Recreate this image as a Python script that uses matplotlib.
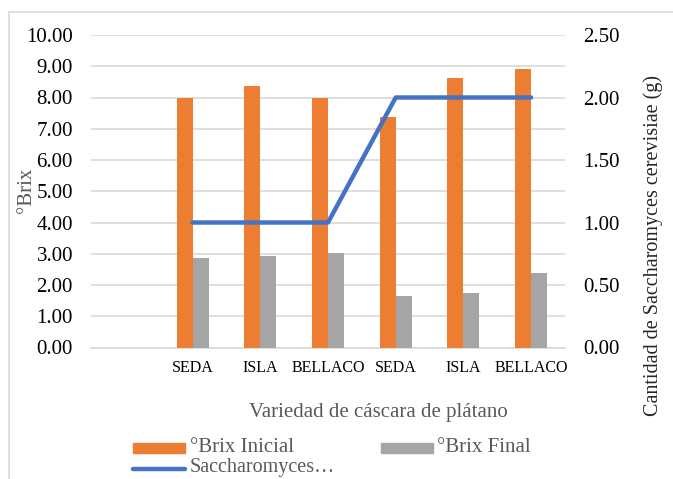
import numpy as np
import matplotlib.pyplot as plt
from matplotlib.patches import Rectangle
from matplotlib.lines import Line2D

plt.rcParams['font.family'] = ['Liberation Serif', 'DejaVu Serif']

# data (first category is empty)
categorias = ['', 'SEDA', 'ISLA', 'BELLACO', 'SEDA', 'ISLA', 'BELLACO']
brix_inicial = [np.nan, 8.00, 8.37, 8.00, 7.39, 8.61, 8.91]
brix_final = [np.nan, 2.86, 2.94, 3.03, 1.65, 1.76, 2.40]
saccharomyces = [np.nan, 1.00, 1.00, 1.00, 2.00, 2.00, 2.00]

naranja = '#ED7D31'
gris = '#A5A5A5'
azul = '#4472C4'
texto_gris = '#595959'

fig = plt.figure(figsize=(6.73, 4.79), dpi=100)
ax = fig.add_axes([91/673, 1-347.5/479, 474/673, 312.5/479])

x = np.arange(len(categorias))
w = 0.236
ax.bar(x - w/2, brix_inicial, w, color=naranja, zorder=3)
ax.bar(x + w/2, brix_final, w, color=gris, zorder=3)

ax.set_ylim(0, 10)
ax.set_yticks(np.arange(0, 10.01, 1))
ax.set_yticklabels(['%.2f' % v for v in np.arange(0, 10.01, 1)], fontsize=15)
ax.set_xlim(-0.5, len(categorias) - 0.5)
ax.set_xticks(x)
ax.set_xticklabels(categorias, fontsize=11.5)
ax.tick_params(axis='y', length=0, pad=13)
ax.tick_params(axis='x', length=0, pad=9)
ax.grid(axis='y', color='#D9D9D9', linewidth=1.2, zorder=0)
for s in ['left', 'right', 'top']:
    ax.spines[s].set_visible(False)
ax.spines['bottom'].set_color('#D9D9D9')
ax.spines['bottom'].set_linewidth(1.2)

ax2 = ax.twinx()
ax2.plot(x, saccharomyces, color=azul, linewidth=3.2, solid_capstyle='round', zorder=4)
ax2.set_ylim(0, 2.5)
ax2.set_yticks(np.arange(0, 2.51, 0.5))
ax2.set_yticklabels(['%.2f' % v for v in np.arange(0, 2.51, 0.5)], fontsize=15)
ax2.tick_params(axis='y', length=0, pad=13)
for s in ['left', 'right', 'top', 'bottom']:
    ax2.spines[s].set_visible(False)

# axis titles
fig.text(26/673, 1-190/479, '°Brix', rotation=90, fontsize=15, color=texto_gris,
         ha='center', va='center')
fig.text(653/673, 1-246/479, 'Cantidad de Saccharomyces cerevisiae (g)', rotation=90,
         fontsize=14.5, color='#262626', ha='center', va='center')
fig.text(378/673, 1-413/479, 'Variedad de cáscara de plátano', fontsize=15,
         color=texto_gris, ha='center', va='center')

# legend, drawn by hand to follow the clipped layout
fig.patches.append(Rectangle((133/673, 1-453/479), 52/673, 10/479, color=naranja,
                             transform=fig.transFigure))
fig.text(190/673, 1-447/479, '°Brix Inicial', fontsize=15, color=texto_gris, va='center')
fig.patches.append(Rectangle((381/673, 1-453/479), 52/673, 10/479, color=gris,
                             transform=fig.transFigure))
fig.text(437/673, 1-447/479, '°Brix Final', fontsize=15, color=texto_gris, va='center')
fig.lines.append(Line2D([133/673, 185/673], [1-469/479, 1-469/479], color=azul,
                        linewidth=3.2, solid_capstyle='round', transform=fig.transFigure))
fig.text(190/673, 2/479, 'Saccharomyces…', fontsize=14.5, color=texto_gris, va='bottom')

# chart border
fig.patches.append(Rectangle((9/673, -0.1), 1, 1.1 - 12/479, fill=False,
                             edgecolor='#D9D9D9', linewidth=1.2, transform=fig.transFigure))

fig.savefig('out.png', dpi=100)
